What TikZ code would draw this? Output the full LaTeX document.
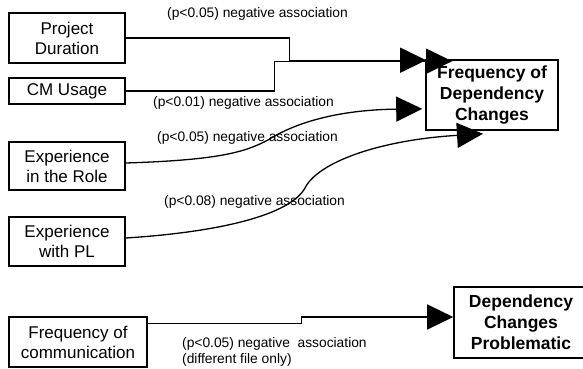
\documentclass[tikz,border=0pt]{standalone}
\usepackage{fontspec}
\setmainfont{Liberation Sans}
\usetikzlibrary{arrows.meta,calc}
\tikzset{
  box/.style={draw, line width=1.6pt, inner sep=0pt, align=center, font=\fontsize{17}{20}\selectfont},
  bbox/.style={box, font=\fontsize{17.5}{21}\selectfont\bfseries},
  lbl/.style={anchor=west, inner sep=0pt, align=left, font=\fontsize{13.8}{16.5}\selectfont},
  conn/.style={line width=1.3pt, -{Triangle[length=26pt,width=25pt]}},
}
\begin{document}
\begin{tikzpicture}[x=1pt,y=-1pt]
\useasboundingbox (0,0) rectangle (583,369);
% boxes
\node[box, minimum width=116pt, minimum height=50pt] (pd) at (67,38) {Project\\Duration};
\node[box, minimum width=116pt, minimum height=26pt] (cm) at (67,91) {CM Usage};
\node[box, minimum width=116pt, minimum height=48pt] (role) at (67,166) {Experience\\in the Role};
\node[box, minimum width=116pt, minimum height=49pt] (pl) at (67,241.5) {Experience\\with PL};
\node[box, minimum width=138pt, minimum height=50pt] (fcom) at (78,342) {Frequency of\\communication};
\node[bbox, minimum width=132pt, minimum height=70pt] (fdc) at (492,95) {Frequency of\\Dependency\\Changes};
\node[bbox, minimum width=134pt, minimum height=71pt] (dcp) at (521,322.5) {Dependency\\Changes\\Problematic};
% labels
\node[lbl] (l1) at (167,14) {(p<0.05) negative association};
\node[lbl] (l2) at (153,103) {(p<0.01) negative association};
\node[lbl] (l3) at (157,138) {(p<0.05) negative association};
\node[lbl] (l4) at (164,202) {(p<0.08) negative association};
\node[lbl, anchor=north west] (l5) at (182,337) {(p<0.05) negative\ \ association\\(different file only)};
% connectors
\draw[conn] (pd.east) -- ++(164,0) |- ($(fdc.north west)+(1,1)$);
\draw[conn] (cm.east) -- ++(149,0) |- ($(fdc.north west)+(27,2)$);
\draw[conn] ($(role.east)+(0,-3)$) .. controls (220,160) and (245,152) .. (268,140)
  .. controls (290,126) and (330,110) .. ($(fdc.south west)+(-3,-22)$);
\draw[conn] ($(pl.east)+(0,-3.5)$) .. controls (220,232) and (290,215) .. (305,188)
  .. controls (318,162) and (380,140) .. ($(fdc.south)+(-9,3)$);
\draw[conn] ($(fcom.north east)+(0,7)$) -- ++(154,0) |- ($(dcp.west)+(0,-5.5)$);
\end{tikzpicture}
\end{document}
